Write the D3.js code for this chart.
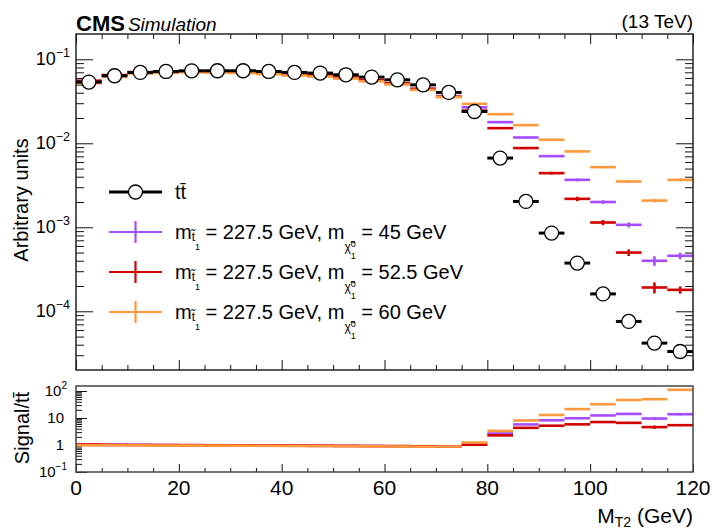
<!DOCTYPE html>
<html><head><meta charset="utf-8">
<script src="https://cdn.jsdelivr.net/npm/d3@7"></script>
<style>
body{margin:0;background:#fff}
text{font-family:"Liberation Sans",Arial,Helvetica,sans-serif;fill:#000}
</style>
</head><body>
<svg id="c" width="712" height="529"></svg>
<script>
// ---- data ----
const binLow = [0,5,10,15,20,25,30,35,40,45,50,55,60,65,70,75,80,85,90,95,100,105,110,115];
const binWidth = 5;
const ttbar = [0.0535,0.0637,0.0697,0.0716,0.0729,0.0730,0.0730,0.0716,0.0697,0.0685,0.0654,0.0614,0.0570,0.0496,0.0403,0.0239,0.00667,0.00203,8.53e-4,3.75e-4,1.61e-4,7.57e-5,4.18e-5,3.32e-5];
const sigPurple = [0.0546,0.0643,0.0697,0.0709,0.0714,0.0708,0.0701,0.0680,0.0655,0.0637,0.0602,0.0559,0.0513,0.0441,0.0359,0.0268,0.01786,0.01172,0.00703,0.00367,0.0020,0.00107,3.99e-4,4.58e-4];
const sigRed    = [0.0556,0.0650,0.0704,0.0716,0.0722,0.0715,0.0708,0.0687,0.0662,0.0644,0.0608,0.0565,0.0519,0.0446,0.0359,0.0245,0.01514,0.00877,0.00441,0.00218,0.00114,5.0e-4,1.92e-4,1.80e-4];
const sigOrange = [0.0519,0.0618,0.0676,0.0687,0.0700,0.0694,0.0686,0.0666,0.0641,0.0623,0.0589,0.0546,0.0502,0.0432,0.0355,0.0295,0.0222,0.01644,0.01102,0.0080,0.0052,0.00351,0.00208,0.00367];
const relErrPurple = [0.01,0.01,0.01,0.01,0.01,0.01,0.01,0.01,0.01,0.01,0.01,0.01,0.01,0.01,0.01,0.01,0.01,0.02,0.03,0.04,0.05,0.07,0.13,0.09];
const relErrRed    = [0.01,0.01,0.01,0.01,0.01,0.01,0.01,0.01,0.01,0.01,0.01,0.01,0.01,0.01,0.01,0.01,0.02,0.03,0.04,0.06,0.07,0.09,0.15,0.10];
const relErrOrange = [0.01,0.01,0.01,0.01,0.01,0.01,0.01,0.01,0.01,0.01,0.01,0.01,0.01,0.01,0.01,0.01,0.01,0.02,0.02,0.03,0.03,0.04,0.05,0.04];
const xMajorTicks = [0,20,40,60,80,100,120];
const xTickLabels = ["0","20","40","60","80","100","120"];
const mainYTicks = [1e-4,1e-3,1e-2,1e-1];
const mainYExps = ["\u22124","\u22123","\u22122","\u22121"];
const ratioYTicks = [0.1,1,10,100];
const ratioYBase = ["10","1","10","10"];
const ratioYExps = ["\u22121","","","2"];
const seriesNames = ["purple","red","orange"];
const seriesColors = ["#a54cff","#d20000","#ff9a3c"];
const seriesNeutralino = ["45","52.5","60"];

// ---- layout ----
const svg = d3.select('#c');
const L = 76, R = 693, mT = 34, mB = 370, rT = 386, rB = 472;
const x = d3.scaleLinear().domain([0,120]).range([L,R]);
const y = d3.scaleLog().domain([2e-5,0.2]).range([mB,mT]);
const yr = d3.scaleLog().domain([0.1,153]).range([rB,rT]);

const signals = [sigPurple, sigRed, sigOrange];
const errs = [relErrPurple, relErrRed, relErrOrange];

function minorLog(domain){
  const out=[];
  for(let e=-6;e<=3;e++){ for(let k=2;k<=9;k++){ const v=k*Math.pow(10,e); if(v>domain[0]*1.0001 && v<domain[1]*0.9999) out.push(v);} }
  return out;
}
const xMinor = d3.range(0,121,5).filter(v=>v%20!==0);

svg.append('defs').html(
  `<clipPath id="cm"><rect x="${L}" y="${mT}" width="${R-L}" height="${mB-mT}"/></clipPath>
   <clipPath id="cr"><rect x="${L}" y="${rT}" width="${R-L}" height="${rB-rT}"/></clipPath>`);

function styleAxis(g){ g.select('.domain').remove(); g.selectAll('line').attr('stroke','#111').attr('stroke-width',1); g.selectAll('text').remove(); }

// main panel ticks
svg.append('g').attr('transform',`translate(${L},0)`).call(d3.axisRight(y).tickValues(mainYTicks).tickSize(17)).call(styleAxis);
svg.append('g').attr('transform',`translate(${L},0)`).call(d3.axisRight(y).tickValues(minorLog(y.domain())).tickSize(8)).call(styleAxis);
svg.append('g').attr('transform',`translate(${R},0)`).call(d3.axisLeft(y).tickValues(mainYTicks).tickSize(17)).call(styleAxis);
svg.append('g').attr('transform',`translate(${R},0)`).call(d3.axisLeft(y).tickValues(minorLog(y.domain())).tickSize(8)).call(styleAxis);
svg.append('g').attr('transform',`translate(0,${mB})`).call(d3.axisTop(x).tickValues(xMajorTicks).tickSize(10)).call(styleAxis);
svg.append('g').attr('transform',`translate(0,${mB})`).call(d3.axisTop(x).tickValues(xMinor).tickSize(5)).call(styleAxis);
svg.append('g').attr('transform',`translate(0,${mT})`).call(d3.axisBottom(x).tickValues(xMajorTicks).tickSize(10)).call(styleAxis);
svg.append('g').attr('transform',`translate(0,${mT})`).call(d3.axisBottom(x).tickValues(xMinor).tickSize(5)).call(styleAxis);

// ratio ticks
svg.append('g').attr('transform',`translate(${L},0)`).call(d3.axisRight(yr).tickValues(ratioYTicks).tickSize(11)).call(styleAxis);
svg.append('g').attr('transform',`translate(${L},0)`).call(d3.axisRight(yr).tickValues(minorLog(yr.domain())).tickSize(6)).call(styleAxis);
svg.append('g').attr('transform',`translate(0,${rB})`).call(d3.axisTop(x).tickValues(xMajorTicks).tickSize(8)).call(styleAxis);
svg.append('g').attr('transform',`translate(0,${rB})`).call(d3.axisTop(x).tickValues(xMinor).tickSize(4)).call(styleAxis);

// main data
const gm = svg.append('g').attr('clip-path','url(#cm)');
signals.forEach((s,si)=>{
  const g = gm.append('g').attr('stroke',seriesColors[si]).attr('stroke-width',2.6);
  g.selectAll('line.h').data(s).enter().append('line')
    .attr('x1',(d,i)=>x(binLow[i])).attr('x2',(d,i)=>x(binLow[i]+binWidth))
    .attr('y1',d=>y(d)).attr('y2',d=>y(d));
  g.selectAll('line.v').data(s).enter().append('line')
    .attr('x1',(d,i)=>x(binLow[i]+binWidth/2)).attr('x2',(d,i)=>x(binLow[i]+binWidth/2))
    .attr('y1',(d,i)=>y(d*(1+errs[si][i]))).attr('y2',(d,i)=>y(d*(1-errs[si][i])));
});
const gt = gm.append('g');
gt.selectAll('line').data(ttbar).enter().append('line')
  .attr('x1',(d,i)=>x(binLow[i])).attr('x2',(d,i)=>x(binLow[i]+binWidth))
  .attr('y1',d=>y(d)).attr('y2',d=>y(d)).attr('stroke','#000').attr('stroke-width',3);
gt.selectAll('circle').data(ttbar).enter().append('circle')
  .attr('cx',(d,i)=>x(binLow[i]+binWidth/2)).attr('cy',d=>y(d)).attr('r',7)
  .attr('fill','#fff').attr('stroke','#000').attr('stroke-width',1.3);

// ratio data
const gr = svg.append('g').attr('clip-path','url(#cr)');
signals.forEach((s,si)=>{
  const ratio = s.map((v,i)=>v/ttbar[i]);
  const g = gr.append('g').attr('stroke',seriesColors[si]).attr('stroke-width',2.6);
  g.selectAll('line.h').data(ratio).enter().append('line')
    .attr('x1',(d,i)=>x(binLow[i])).attr('x2',(d,i)=>x(binLow[i]+binWidth))
    .attr('y1',d=>yr(d)).attr('y2',d=>yr(d));
  g.selectAll('line.v').data(ratio).enter().append('line')
    .attr('x1',(d,i)=>x(binLow[i]+binWidth/2)).attr('x2',(d,i)=>x(binLow[i]+binWidth/2))
    .attr('y1',(d,i)=>yr(d*(1+errs[si][i]))).attr('y2',(d,i)=>yr(d*(1-errs[si][i])));
});

// frames
svg.append('rect').attr('x',L).attr('y',mT).attr('width',R-L).attr('height',mB-mT).attr('fill','none').attr('stroke','#222').attr('stroke-width',1.5);
svg.append('rect').attr('x',L).attr('y',rT).attr('width',R-L).attr('height',rB-rT).attr('fill','none').attr('stroke','#444').attr('stroke-width',1.5);

// main y tick labels
mainYTicks.forEach((v,i)=>{
  const t = svg.append('text').attr('x',70).attr('y',y(v)+6).attr('text-anchor','end').attr('font-size',18);
  t.append('tspan').text('10');
  t.append('tspan').attr('font-size',12.5).attr('dy',-8).text(mainYExps[i]);
});
// ratio y tick labels
ratioYTicks.forEach((v,i)=>{
  const t = svg.append('text').attr('x',ratioYExps[i]===''?64:67).attr('y',yr(v)+5).attr('text-anchor','end').attr('font-size',15);
  t.append('tspan').text(ratioYBase[i]);
  if(ratioYExps[i]!=='') t.append('tspan').attr('font-size',10).attr('dy',-7).text(ratioYExps[i]);
});
// x tick labels
xMajorTicks.forEach((v,i)=>{
  svg.append('text').attr('x',x(v)).attr('y',495).attr('text-anchor','middle').attr('font-size',21).text(xTickLabels[i]);
});

// axis titles
const xt = svg.append('text').attr('x',R).attr('y',523).attr('text-anchor','end').attr('font-size',21);
xt.append('tspan').text('M');
xt.append('tspan').attr('font-size',14).attr('dy',4).text('T2');
xt.append('tspan').attr('dy',-4).text(' (GeV)');
svg.append('text').attr('transform','translate(28,200) rotate(-90)').attr('text-anchor','middle').attr('font-size',20).text('Arbitrary units');
svg.append('text').attr('transform','translate(29,428) rotate(-90)').attr('text-anchor','middle').attr('font-size',20).text('Signal/t\u0074\u0304');

// header
const h = svg.append('text').attr('x',L).attr('y',31);
h.append('tspan').attr('font-weight','bold').attr('font-size',22).text('CMS');
h.append('tspan').attr('font-style','italic').attr('font-size',19).attr('dx',3).text('Simulation');
svg.append('text').attr('x',R).attr('y',28).attr('text-anchor','end').attr('font-size',19).text('(13 TeV)');

// legend
const lx1 = 109, lx2 = 162, lxc = 135.5, ltx = 175;
const rowY = [192, 232, 272, 312];
svg.append('line').attr('x1',lx1).attr('x2',lx2).attr('y1',rowY[0]).attr('y2',rowY[0]).attr('stroke','#000').attr('stroke-width',3);
svg.append('circle').attr('cx',lxc).attr('cy',rowY[0]).attr('r',7).attr('fill','#fff').attr('stroke','#000').attr('stroke-width',1.3);
svg.append('text').attr('x',ltx).attr('y',rowY[0]+7).attr('font-size',20).text('t\u0074\u0304');
seriesColors.forEach((c,si)=>{
  const yy = rowY[si+1];
  svg.append('line').attr('x1',lx1).attr('x2',lx2).attr('y1',yy).attr('y2',yy).attr('stroke',c).attr('stroke-width',2.2);
  svg.append('line').attr('x1',lxc).attr('x2',lxc).attr('y1',yy-11).attr('y2',yy+11).attr('stroke',c).attr('stroke-width',2.2);
  const B = yy+7;
  const t = svg.append('text').attr('x',ltx).attr('y',B).attr('font-size',20);
  t.append('tspan').text('m');
  t.append('tspan').attr('font-size',12).attr('dy',2).text('t\u0303');
  t.append('tspan').attr('font-size',9).attr('dy',9).text('1');
  t.append('tspan').attr('font-size',20).attr('dy',-11).text(' = 227.5 GeV, m');
  t.append('tspan').attr('font-size',12).attr('dy',12).text('\u03c7\u0303');
  t.append('tspan').attr('font-size',9).attr('dy',-4).text('0');
  t.append('tspan').attr('font-size',9).attr('dx',-5).attr('dy',12).text('1');
  t.append('tspan').attr('font-size',20).attr('dy',-20).text(' = ' + seriesNeutralino[si] + ' GeV');
});
</script>
</body></html>
